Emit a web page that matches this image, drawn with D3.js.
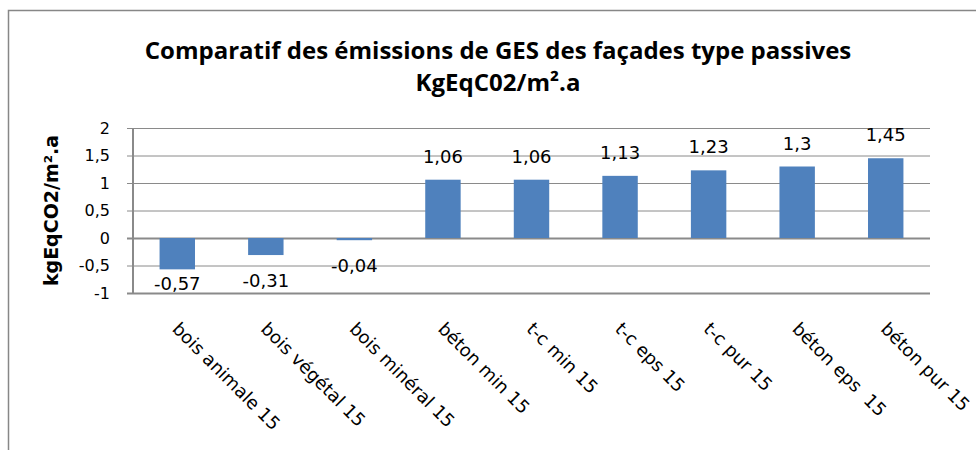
<!DOCTYPE html>
<html>
<head>
<meta charset="utf-8">
<script src="https://cdn.jsdelivr.net/npm/d3@7"></script>
<style>
  body { margin: 0; background: #fff; }
  text { font-family: "DejaVu Sans", sans-serif; }
</style>
</head>
<body>
<div id="chart"></div>
<script>
// chart data
const categories = ["bois animale 15", "bois végétal 15", "bois minéral 15", "béton min 15",
                    "t-c min 15", "t-c eps 15", "t-c pur 15", "béton eps  15", "béton pur 15"];
const values = [-0.57, -0.31, -0.04, 1.06, 1.06, 1.13, 1.23, 1.3, 1.45];
const yTicks = [-1, -0.5, 0, 0.5, 1, 1.5, 2];

const fr = v => String(v).replace(".", ",");

const W = 976, H = 450;
const plotL = 133, plotR = 930, plotT = 128, plotB = 293;

const svg = d3.select("#chart").append("svg")
    .attr("width", W)
    .attr("height", H);

// outer frame
svg.append("rect")
    .attr("x", 8.5).attr("y", 10.5)
    .attr("width", W).attr("height", H)
    .attr("fill", "none")
    .attr("stroke", "#878787")
    .attr("stroke-width", 1.5);

const x = d3.scaleBand()
    .domain(categories)
    .range([plotL, plotR])
    .paddingInner(0.6)
    .paddingOuter(0.3);

const y = d3.scaleLinear()
    .domain([-1, 2])
    .range([plotB, plotT]);

// gridlines + ticks
const yAxis = svg.append("g")
    .attr("transform", `translate(${plotL},0)`)
    .call(d3.axisLeft(y).tickValues(yTicks).tickFormat(fr)
        .tickSize(6).tickSizeOuter(0).tickPadding(17));
yAxis.select(".domain").remove();
yAxis.selectAll(".tick line")
    .attr("x1", -6).attr("x2", plotR - plotL)
    .attr("stroke", "#8a8a8a")
    .attr("stroke-width", d => (d === 0 || d === -1) ? 2 : 1);
yAxis.selectAll(".tick text")
    .style("font-size", "16px")
    .attr("fill", "#000");

// vertical axis line
svg.append("line")
    .attr("x1", plotL).attr("x2", plotL)
    .attr("y1", plotT).attr("y2", plotB + 1)
    .attr("stroke", "#8a8a8a")
    .attr("stroke-width", 2);

// bars
svg.selectAll(".bar")
    .data(values)
  .enter().append("rect")
    .attr("class", "bar")
    .attr("x", (d, i) => x(categories[i]))
    .attr("y", d => y(Math.max(0, d)))
    .attr("width", x.bandwidth())
    .attr("height", d => Math.abs(y(d) - y(0)))
    .attr("fill", "#4F81BD");

// value labels
svg.selectAll(".label")
    .data(values)
  .enter().append("text")
    .attr("class", "label")
    .attr("x", (d, i) => x(categories[i]) + x.bandwidth() / 2)
    .attr("y", d => d >= 0 ? y(d) - 17 : Math.min(y(d) + 19, plotB - 16) + 13)
    .attr("text-anchor", "middle")
    .style("font-size", "18px")
    .attr("fill", "#000")
    .text(fr);

// category labels, rotated
svg.selectAll(".cat")
    .data(categories)
  .enter().append("text")
    .attr("class", "cat")
    .attr("transform", d => `translate(${x(d) + x.bandwidth() / 2 - 6},${plotB + 37}) rotate(45)`)
    .style("font-size", "18px")
    .style("white-space", "pre")
    .attr("fill", "#000")
    .text(d => d);

// axis title
svg.append("text")
    .attr("transform", `translate(58,${(plotT + plotB) / 2}) rotate(-90)`)
    .attr("text-anchor", "middle")
    .style("font-size", "19px")
    .style("font-weight", "bold")
    .text("kgEqCO2/m².a");

// chart title
const title = svg.append("text")
    .attr("x", 498)
    .attr("text-anchor", "middle")
    .style("font-family", "'Open Sans', sans-serif")
    .style("font-weight", "bold")
    .style("font-size", "24px");
title.append("tspan").attr("x", 498).attr("y", 59)
    .text("Comparatif des émissions de GES des façades type passives");
title.append("tspan").attr("x", 498).attr("y", 91)
    .text("KgEqC02/m².a");
</script>
</body>
</html>
